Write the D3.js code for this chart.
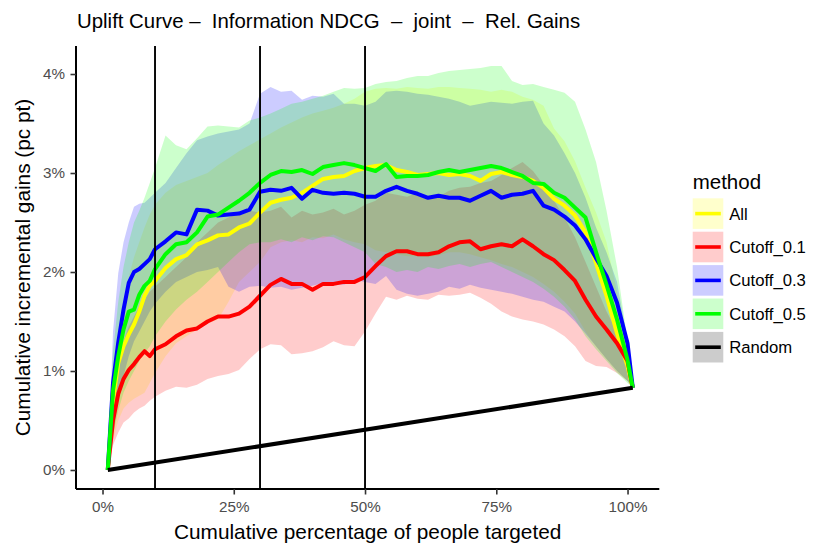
<!DOCTYPE html>
<html>
<head>
<meta charset="utf-8">
<script src="https://cdn.jsdelivr.net/npm/d3@7"></script>
<style>
html,body{margin:0;padding:0;background:#fff;}
svg{display:block;font-family:"Liberation Sans",Arial,Helvetica,sans-serif;}
text{white-space:pre;}
</style>
</head>
<body>
<svg id="chart" width="830" height="554"></svg>
<script>
// ---------- data (x in %, y in percentage points) ----------
const xPct = [1,2,3,4,5,6,7,8,9,10,12,14,16,18,20,22,24,26,28,30,32,34,36,38,40,42,44,46,48,50,52,54,56,58,60,62,64,66,68,70,72,74,76,78,80,82,84,86,88,90,92,94,96,98,100,101];

const methods = ["All","Cutoff_0.1","Cutoff_0.3","Cutoff_0.5","Random"];
const methodColors = ["#FFFF00","#FF0000","#0000FF","#00FF00","#000000"];

const allLine = [0,0.70,1.08,1.25,1.37,1.47,1.60,1.76,1.86,1.91,
  2.04,2.13,2.17,2.28,2.32,2.37,2.38,2.45,2.49,2.60,
  2.70,2.73,2.75,2.80,2.87,2.94,2.96,2.97,3.02,3.05,
  3.07,3.08,3.03,3.01,2.98,2.99,3.00,2.98,2.99,2.97,
  2.92,2.99,3.01,2.98,2.96,2.92,2.85,2.74,2.67,2.57,
  2.40,2.09,1.76,1.38,1.05,0.83];
const cut01Line = [0,0.50,0.77,0.92,1.01,1.07,1.14,1.20,1.15,1.22,
  1.27,1.35,1.41,1.43,1.50,1.55,1.55,1.58,1.65,1.76,
  1.87,1.93,1.88,1.88,1.82,1.88,1.88,1.90,1.90,1.95,
  2.06,2.16,2.21,2.21,2.18,2.18,2.20,2.26,2.30,2.31,
  2.23,2.26,2.28,2.26,2.33,2.26,2.18,2.12,2.02,1.91,
  1.72,1.55,1.42,1.28,1.10,0.83];
const cut03Line = [0,0.88,1.29,1.62,1.89,2.00,2.03,2.08,2.13,2.23,
  2.31,2.40,2.38,2.63,2.62,2.57,2.58,2.59,2.63,2.81,
  2.83,2.82,2.85,2.74,2.83,2.80,2.79,2.80,2.79,2.76,
  2.76,2.82,2.86,2.82,2.79,2.75,2.77,2.75,2.75,2.72,
  2.77,2.82,2.75,2.78,2.79,2.82,2.67,2.63,2.56,2.47,
  2.33,2.14,1.96,1.69,1.28,0.83];
const cut05Line = [0,0.80,1.15,1.42,1.60,1.62,1.77,1.86,1.91,2.03,
  2.18,2.28,2.30,2.40,2.56,2.58,2.65,2.72,2.80,2.90,
  2.98,3.02,3.01,3.03,2.99,3.06,3.08,3.10,3.08,3.05,
  3.02,3.09,2.96,2.97,2.97,2.98,3.01,3.03,3.01,3.03,
  3.05,3.07,3.05,3.01,2.97,2.90,2.89,2.80,2.75,2.65,
  2.55,2.20,1.87,1.52,1.11,0.83];

const allLo = [0,0.30,0.50,0.62,0.68,0.72,0.75,0.78,0.88,0.98,
  1.15,1.28,1.35,1.42,1.48,1.52,1.70,1.90,2.00,2.10,
  2.25,2.30,2.32,2.30,2.35,2.34,2.38,2.33,2.30,2.28,
  2.22,2.20,2.18,2.16,2.16,2.15,2.17,2.20,2.20,2.18,
  2.15,2.12,2.08,2.05,2.00,1.95,1.88,1.80,1.70,1.58,
  1.40,1.25,1.12,1.00,0.90,0.83];
const allHi = [0,1.00,1.40,1.70,1.95,2.15,2.30,2.45,2.58,2.68,
  2.80,2.88,2.92,2.96,3.00,3.08,3.15,3.22,3.28,3.34,
  3.40,3.46,3.51,3.56,3.60,3.63,3.66,3.70,3.75,3.82,
  3.85,3.86,3.85,3.87,3.86,3.85,3.87,3.87,3.86,3.85,
  3.84,3.82,3.84,3.82,3.77,3.74,3.68,3.45,3.32,3.12,
  2.85,2.60,2.30,1.80,1.20,0.83];
const cut01Lo = [0,0.25,0.38,0.48,0.52,0.58,0.62,0.65,0.70,0.74,
  0.80,0.84,0.83,0.86,0.92,0.95,0.97,1.01,1.12,1.22,
  1.27,1.26,1.17,1.18,1.20,1.24,1.30,1.26,1.25,1.40,
  1.58,1.75,1.72,1.76,1.73,1.72,1.77,1.76,1.77,1.79,
  1.74,1.68,1.60,1.55,1.52,1.50,1.47,1.42,1.35,1.25,
  1.10,1.05,1.04,0.98,0.90,0.83];
const cut01Hi = [0,0.80,1.10,1.30,1.45,1.55,1.65,1.72,1.80,1.85,
  1.95,2.05,2.15,2.30,2.40,2.50,2.55,2.60,2.62,2.60,
  2.62,2.66,2.55,2.62,2.58,2.60,2.64,2.58,2.62,2.68,
  2.72,2.80,2.78,2.76,2.80,2.74,2.76,2.82,2.85,2.86,
  2.90,2.92,2.98,3.05,3.11,3.02,2.88,2.72,2.55,2.35,
  2.10,1.85,1.60,1.40,1.10,0.83];
const cut03Lo = [0,0.40,0.70,0.95,1.15,1.30,1.40,1.50,1.60,1.68,
  1.80,1.90,1.95,2.00,2.02,2.05,1.85,1.80,1.85,1.86,
  1.84,1.85,1.82,1.84,1.86,1.89,1.88,1.87,1.92,1.90,
  1.88,1.96,1.82,1.78,1.76,1.78,1.80,1.85,1.83,1.87,
  1.84,1.82,1.80,1.78,1.75,1.72,1.70,1.65,1.60,1.50,
  1.38,1.25,1.12,1.00,0.90,0.83];
const cut03Hi = [0,1.40,1.99,2.30,2.50,2.66,2.69,2.70,2.75,2.80,
  2.90,3.05,3.20,3.33,3.37,3.40,3.42,3.44,3.50,3.80,
  3.87,3.82,3.83,3.74,3.78,3.77,3.80,3.70,3.70,3.68,
  3.72,3.82,3.83,3.82,3.80,3.79,3.77,3.75,3.72,3.68,
  3.70,3.72,3.71,3.70,3.72,3.73,3.50,3.38,3.20,3.00,
  2.75,2.45,2.20,1.90,1.30,0.83];
const cut05Lo = [0,0.35,0.60,0.78,0.90,1.00,1.10,1.18,1.25,1.35,
  1.50,1.62,1.72,1.80,1.90,2.00,2.10,2.20,2.28,2.30,
  2.30,2.33,2.30,2.35,2.32,2.36,2.35,2.30,2.25,2.20,
  2.08,2.05,2.00,2.02,2.00,2.05,2.03,2.06,2.08,2.05,
  2.08,2.10,2.05,2.00,1.95,1.90,1.83,1.75,1.65,1.52,
  1.35,1.22,1.10,0.98,0.88,0.83];
const cut05Hi = [0,1.20,1.70,2.05,2.30,2.50,2.62,2.75,2.90,3.05,
  3.38,3.28,3.24,3.35,3.47,3.48,3.47,3.46,3.53,3.56,
  3.60,3.65,3.70,3.72,3.75,3.78,3.82,3.86,3.85,3.86,
  3.90,3.92,3.93,3.96,3.98,3.98,4.01,4.03,4.04,4.05,
  4.06,4.08,4.08,3.93,3.89,3.90,3.87,3.84,3.81,3.72,
  3.44,3.11,2.62,2.05,1.30,0.83];

const randomX = [1,101];
const randomY = [0,0.83];

const vLines = [10,30,50];
const xTicks = [0,25,50,75,100];
const xTickLabels = ["0%","25%","50%","75%","100%"];
const yTicks = [0,1,2,3,4];
const yTickLabels = ["0%","1%","2%","3%","4%"];

const titleText = "Uplift Curve \u2013  Information NDCG  \u2013  joint  \u2013  Rel. Gains";
const xTitle = "Cumulative percentage of people targeted";
const yTitle = "Cumulative incremental gains (pc pt)";
const legendTitle = "method";

// ---------- build ----------
const svg = d3.select("#chart");
const panel = {left:76, right:659.3, top:46, bottom:489};

const x = d3.scaleLinear().domain([-5.05, 106.05]).range([panel.left, panel.right]);
const y = d3.scaleLinear().domain([-0.192, 4.283]).range([panel.bottom, panel.top]);

const lineSeries = [allLine, cut01Line, cut03Line, cut05Line];
const bandSeries = [[allLo,allHi],[cut01Lo,cut01Hi],[cut03Lo,cut03Hi],[cut05Lo,cut05Hi]];

const gPlot = svg.append("g");

// ribbons
const area = d3.area().x(d => x(d.x)).y0(d => y(d.lo)).y1(d => y(d.hi));
bandSeries.forEach((b, i) => {
  const pts = xPct.map((xv, k) => ({x: xv, lo: b[0][k], hi: b[1][k]}));
  gPlot.append("path").attr("d", area(pts))
    .attr("fill", methodColors[i]).attr("fill-opacity", 0.2).attr("stroke", "none");
});

// lines
const line = d3.line().x(d => x(d[0])).y(d => y(d[1]));
lineSeries.forEach((s, i) => {
  gPlot.append("path").attr("d", line(xPct.map((xv, k) => [xv, s[k]])))
    .attr("fill", "none").attr("stroke", methodColors[i])
    .attr("stroke-width", 4).attr("stroke-linejoin", "round").attr("stroke-linecap", "butt");
});
gPlot.append("path").attr("d", line(randomX.map((xv, k) => [xv, randomY[k]])))
  .attr("fill", "none").attr("stroke", methodColors[4])
  .attr("stroke-width", 4).attr("stroke-linecap", "butt");

// vertical reference lines
gPlot.selectAll(".vl").data(vLines).enter().append("line")
  .attr("x1", d => x(d)).attr("x2", d => x(d))
  .attr("y1", panel.top).attr("y2", panel.bottom)
  .attr("stroke", "#000").attr("stroke-width", 1.9);

// axes
const xAxis = d3.axisBottom(x).tickValues(xTicks).tickFormat((d, i) => xTickLabels[i]).tickSize(5.5).tickPadding(4);
const yAxis = d3.axisLeft(y).tickValues(yTicks).tickFormat((d, i) => yTickLabels[i]).tickSize(5.5).tickPadding(5.5);

const gx = svg.append("g").attr("transform", `translate(0,${panel.bottom})`).call(xAxis);
const gy = svg.append("g").attr("transform", `translate(${panel.left},0)`).call(yAxis);
[gx, gy].forEach(g => {
  g.select(".domain").attr("stroke", "#000").attr("stroke-width", 2);
  g.selectAll(".tick line").attr("stroke", "#333").attr("stroke-width", 1.6);
  g.selectAll(".tick text").attr("fill", "#4D4D4D")
    .style("font-family", '"Liberation Sans",Arial,sans-serif').style("font-size", "15.2px");
});
gx.select(".domain").attr("d", `M${panel.left},0H${panel.right}`);
gy.select(".domain").attr("d", `M0,${panel.bottom}V${panel.top}`);
gx.selectAll(".tick text").attr("dy", "0.71em").attr("y", 12);

// titles
svg.append("text").attr("x", 77).attr("y", 28).text(titleText)
  .style("font-size", "20.4px").attr("fill", "#000");
svg.append("text").attr("x", (panel.left + panel.right) / 2).attr("y", 538.5)
  .attr("text-anchor", "middle").text(xTitle).style("font-size", "20.8px").attr("fill", "#000");
svg.append("text").attr("transform", `translate(30,${(panel.top + panel.bottom) / 2}) rotate(-90)`)
  .attr("text-anchor", "middle").text(yTitle).style("font-size", "20.8px").attr("fill", "#000");

// legend
const lg = svg.append("g").attr("transform", "translate(692.7,0)");
lg.append("text").attr("x", 0).attr("y", 188.5).text(legendTitle).style("font-size", "20.5px").attr("fill", "#000");
const keyW = 30.6, keyStep = 33.4, keyTop = 198.3;
methods.forEach((m, i) => {
  const ky = keyTop + i * keyStep;
  lg.append("rect").attr("x", 0).attr("y", ky).attr("width", keyW).attr("height", keyW)
    .attr("fill", methodColors[i]).attr("fill-opacity", 0.2);
  lg.append("line").attr("x1", 2.5).attr("x2", keyW - 2.5).attr("y1", ky + keyW / 2).attr("y2", ky + keyW / 2)
    .attr("stroke", methodColors[i]).attr("stroke-width", 3.6);
  lg.append("text").attr("x", 36.5).attr("y", ky + keyW / 2 + 6).text(m)
    .style("font-size", "16.7px").attr("fill", "#000");
});
</script>
</body>
</html>
